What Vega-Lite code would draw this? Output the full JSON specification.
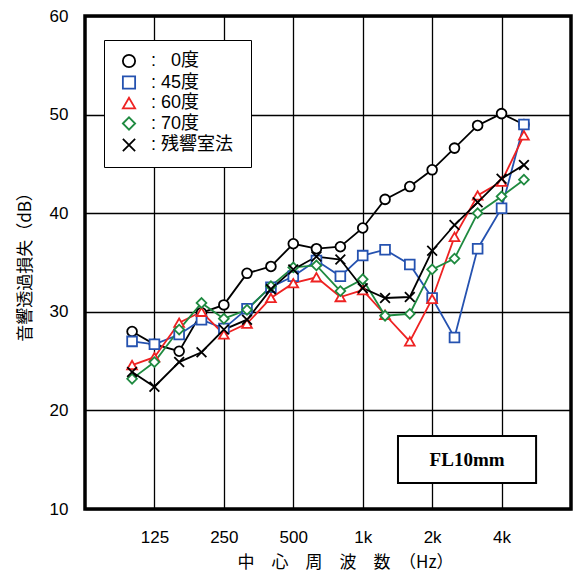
{
  "$schema": "https://vega.github.io/schema/vega-lite/v6.json",
  "autosize": "none",
  "width": 486,
  "height": 493,
  "padding": {"left": 85, "top": 16, "right": 2, "bottom": 63},
  "background": "white",
  "config": {
    "view": {"stroke": "black", "strokeWidth": 3.5},
    "font": "Liberation Sans, Noto Sans CJK JP",
    "axis": {
      "labelFont": "Liberation Sans, Noto Sans CJK JP",
      "titleFont": "Noto Sans CJK JP, Liberation Sans",
      "labelColor": "black",
      "titleColor": "black",
      "labelFontSize": 17,
      "titleFontSize": 17,
      "titleFontWeight": "normal",
      "domain": false,
      "ticks": false,
      "gridColor": "black",
      "gridOpacity": 1,
      "gridWidth": 1.3
    }
  },
  "layer": [
    {
      "data": {"name": "series", "values": [
        {"f": 100, "s": "0度", "v": 28.0}, {"f": 125, "s": "0度", "v": 26.7}, {"f": 160, "s": "0度", "v": 26.0}, {"f": 200, "s": "0度", "v": 29.9}, {"f": 250, "s": "0度", "v": 30.7}, {"f": 315, "s": "0度", "v": 33.9}, {"f": 400, "s": "0度", "v": 34.6}, {"f": 500, "s": "0度", "v": 36.9}, {"f": 630, "s": "0度", "v": 36.4}, {"f": 800, "s": "0度", "v": 36.6}, {"f": 1000, "s": "0度", "v": 38.5}, {"f": 1250, "s": "0度", "v": 41.4}, {"f": 1600, "s": "0度", "v": 42.7}, {"f": 2000, "s": "0度", "v": 44.4}, {"f": 2500, "s": "0度", "v": 46.6}, {"f": 3150, "s": "0度", "v": 48.9}, {"f": 4000, "s": "0度", "v": 50.1}, {"f": 5000, "s": "0度", "v": 49.0},
        {"f": 100, "s": "45度", "v": 27.0}, {"f": 125, "s": "45度", "v": 26.7}, {"f": 160, "s": "45度", "v": 27.7}, {"f": 200, "s": "45度", "v": 29.2}, {"f": 250, "s": "45度", "v": 28.3}, {"f": 315, "s": "45度", "v": 30.3}, {"f": 400, "s": "45度", "v": 32.5}, {"f": 500, "s": "45度", "v": 33.6}, {"f": 630, "s": "45度", "v": 35.2}, {"f": 800, "s": "45度", "v": 33.6}, {"f": 1000, "s": "45度", "v": 35.7}, {"f": 1250, "s": "45度", "v": 36.3}, {"f": 1600, "s": "45度", "v": 34.8}, {"f": 2000, "s": "45度", "v": 31.4}, {"f": 2500, "s": "45度", "v": 27.4}, {"f": 3150, "s": "45度", "v": 36.4}, {"f": 4000, "s": "45度", "v": 40.5}, {"f": 5000, "s": "45度", "v": 49.0},
        {"f": 100, "s": "60度", "v": 24.6}, {"f": 125, "s": "60度", "v": 25.4}, {"f": 160, "s": "60度", "v": 28.9}, {"f": 200, "s": "60度", "v": 30.0}, {"f": 250, "s": "60度", "v": 27.7}, {"f": 315, "s": "60度", "v": 28.8}, {"f": 400, "s": "60度", "v": 31.4}, {"f": 500, "s": "60度", "v": 32.9}, {"f": 630, "s": "60度", "v": 33.5}, {"f": 800, "s": "60度", "v": 31.5}, {"f": 1000, "s": "60度", "v": 32.2}, {"f": 1250, "s": "60度", "v": 29.7}, {"f": 1600, "s": "60度", "v": 27.0}, {"f": 2000, "s": "60度", "v": 31.3}, {"f": 2500, "s": "60度", "v": 37.6}, {"f": 3150, "s": "60度", "v": 41.8}, {"f": 4000, "s": "60度", "v": 43.2}, {"f": 5000, "s": "60度", "v": 47.9},
        {"f": 100, "s": "70度", "v": 23.2}, {"f": 125, "s": "70度", "v": 24.9}, {"f": 160, "s": "70度", "v": 28.2}, {"f": 200, "s": "70度", "v": 30.9}, {"f": 250, "s": "70度", "v": 29.3}, {"f": 315, "s": "70度", "v": 30.2}, {"f": 400, "s": "70度", "v": 32.6}, {"f": 500, "s": "70度", "v": 34.5}, {"f": 630, "s": "70度", "v": 34.7}, {"f": 800, "s": "70度", "v": 32.1}, {"f": 1000, "s": "70度", "v": 33.3}, {"f": 1250, "s": "70度", "v": 29.6}, {"f": 1600, "s": "70度", "v": 29.8}, {"f": 2000, "s": "70度", "v": 34.3}, {"f": 2500, "s": "70度", "v": 35.4}, {"f": 3150, "s": "70度", "v": 40.0}, {"f": 4000, "s": "70度", "v": 41.7}, {"f": 5000, "s": "70度", "v": 43.4},
        {"f": 100, "s": "残響室法", "v": 23.9}, {"f": 125, "s": "残響室法", "v": 22.4}, {"f": 160, "s": "残響室法", "v": 24.9}, {"f": 200, "s": "残響室法", "v": 25.9}, {"f": 250, "s": "残響室法", "v": 28.2}, {"f": 315, "s": "残響室法", "v": 29.2}, {"f": 400, "s": "残響室法", "v": 32.3}, {"f": 500, "s": "残響室法", "v": 34.3}, {"f": 630, "s": "残響室法", "v": 35.6}, {"f": 800, "s": "残響室法", "v": 35.3}, {"f": 1000, "s": "残響室法", "v": 32.4}, {"f": 1250, "s": "残響室法", "v": 31.4}, {"f": 1600, "s": "残響室法", "v": 31.5}, {"f": 2000, "s": "残響室法", "v": 36.2}, {"f": 2500, "s": "残響室法", "v": 38.8}, {"f": 3150, "s": "残響室法", "v": 41.1}, {"f": 4000, "s": "残響室法", "v": 43.5}, {"f": 5000, "s": "残響室法", "v": 44.9}
      ]},
      "encoding": {
        "x": {
          "field": "f", "type": "quantitative",
          "scale": {"type": "log", "domain": [62.5, 8000], "nice": false},
          "axis": {
            "values": [125, 250, 500, 1000, 2000, 4000],
            "labelExpr": "datum.value >= 1000 ? (datum.value / 1000) + 'k' : '' + datum.value",
            "labelPadding": 20,
            "title": "中　心　周　波　数　（Hz）",
            "titlePadding": 9,
            "titleAnchor": "start",
            "titleX": 152
          }
        },
        "y": {
          "field": "v", "type": "quantitative",
          "scale": {"domain": [10, 60], "nice": false, "zero": false},
          "axis": {
            "values": [10, 20, 30, 40, 50, 60],
            "labelPadding": 17,
            "title": "音響透過損失（dB）",
            "titlePadding": 15
          }
        }
      },
      "layer": [
        {
          "mark": {"type": "line", "strokeWidth": 1.8},
          "encoding": {
            "stroke": {
              "field": "s", "type": "nominal",
              "scale": {"domain": ["0度", "45度", "60度", "70度", "残響室法"], "range": ["#000000", "#2552b0", "#ee2222", "#1f8a40", "#000000"]},
              "legend": null
            },
            "detail": {"field": "s"}
          }
        },
        {
          "mark": {"type": "point", "filled": true, "fill": "white", "size": 95, "strokeWidth": 1.8, "opacity": 1},
          "encoding": {
            "stroke": {
              "field": "s", "type": "nominal",
              "scale": {"domain": ["0度", "45度", "60度", "70度", "残響室法"], "range": ["#000000", "#2552b0", "#ee2222", "#1f8a40", "#000000"]},
              "legend": {
                "title": null,
                "orient": "none",
                "legendX": 19,
                "legendY": 24,
                "padding": 12,
                "symbolOffset": 4,
                "strokeColor": "black",
                "fillColor": "white",
                "symbolSize": 150,
                "symbolStrokeWidth": 1.8,
                "symbolFillColor": "white",
                "labelFontSize": 18,
                "labelFont": "Liberation Sans, Noto Sans CJK JP",
                "labelOffset": 13,
                "rowPadding": 1.5,
                "labelExpr": "(datum.value == '0度' ? ':  \u2007' : ':  ') + datum.value + '\u00a0\u00a0\u00a0'",
                "encode": {
                  "legend": {"update": {"strokeWidth": {"value": 2}}},
                  "labels": {"update": {"fill": {"signal": "datum.value === '45度' ? '#2552b0' : datum.value === '60度' ? '#ee2222' : datum.value === '70度' ? '#1f8a40' : '#000000'"}}}
                }
              }
            },
            "shape": {
              "field": "s", "type": "nominal",
              "scale": {"domain": ["0度", "45度", "60度", "70度", "残響室法"], "range": ["circle", "square", "triangle-up", "diamond", "M-1,-1L1,1M-1,1L1,-1"]},
              "legend": {
                "title": null,
                "orient": "none",
                "legendX": 19,
                "legendY": 24
              }
            }
          }
        }
      ],
      "resolve": {"legend": {"stroke": "independent", "shape": "independent"}}
    },
    {
      "data": {"values": [{"label": "FL10mm"}]},
      "mark": {"type": "rect", "fill": "white", "stroke": "black", "strokeWidth": 2},
      "encoding": {
        "x": {"datum": 1422, "type": "quantitative"},
        "x2": {"datum": 5646},
        "y": {"datum": 17.4, "type": "quantitative"},
        "y2": {"datum": 12.64}
      }
    },
    {
      "data": {"values": [{"label": "FL10mm"}]},
      "mark": {"type": "text", "font": "Liberation Serif", "fontWeight": "bold", "fontSize": 19, "color": "black", "align": "center", "baseline": "middle"},
      "encoding": {
        "text": {"field": "label"},
        "x": {"datum": 2835, "type": "quantitative"},
        "y": {"datum": 15.0, "type": "quantitative"}
      }
    }
  ]
}
